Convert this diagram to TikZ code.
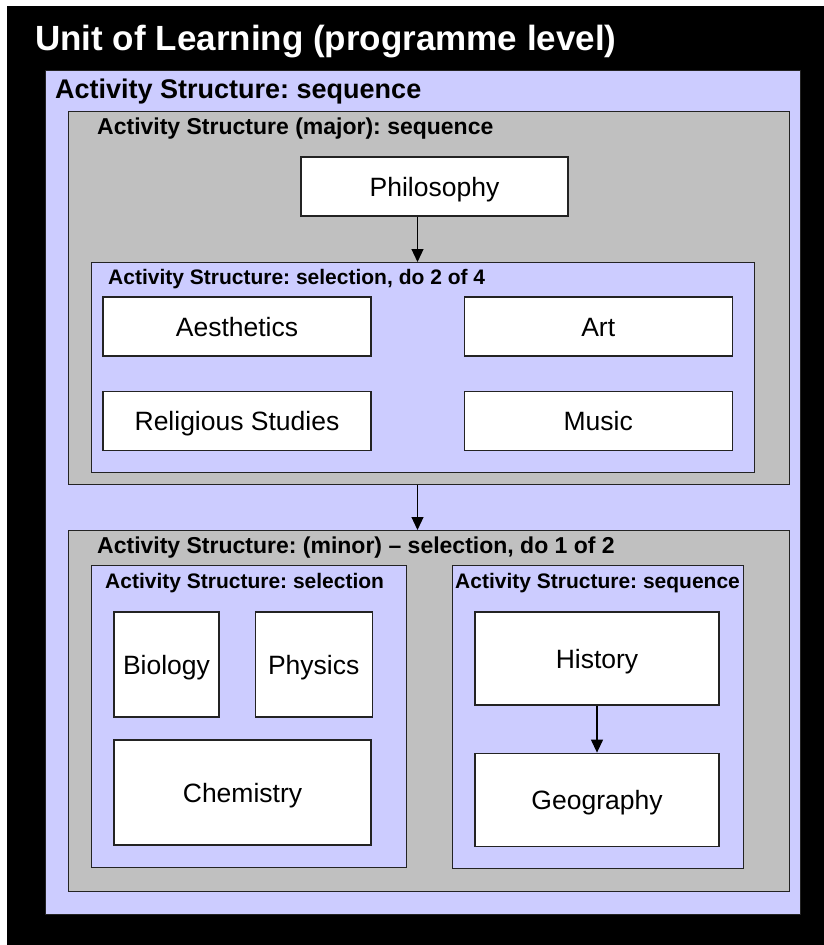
\documentclass[tikz,border=0pt]{standalone}
\usepackage{fontspec}
\setmainfont{Liberation Sans}
\usetikzlibrary{arrows.meta, positioning}
\definecolor{uolblue}{RGB}{204, 204, 255}
\definecolor{uolgray}{RGB}{192, 192, 192}
\definecolor{uoledge}{RGB}{35, 35, 35}
\frenchspacing

\begin{document}
\begin{tikzpicture}[
  x=1pt, y=-1pt,
  bluepane/.style={rectangle, draw=uoledge, fill=uolblue, line width=1.2pt,
                   anchor=north west, inner sep=0pt},
  graypane/.style={rectangle, draw=uoledge, fill=uolgray, line width=1.2pt,
                   anchor=north west, inner sep=0pt},
  subj/.style={rectangle, draw=uoledge, fill=white, line width=1.2pt, inner sep=0pt,
               text height=19pt, text depth=0pt, align=center,
               font=\fontsize{26.5}{30}\selectfont},
  head/.style={anchor=base west, inner sep=0pt, font=\bfseries\fontsize{#1}{#1}\selectfont},
  arrow/.style={-{Triangle[length=13pt, width=12pt]}, line width=1.2pt, color=black},
]
  \useasboundingbox (0,0) rectangle (824,945);
  \fill[black] (7,6) rectangle (824,945);

  % Unit of learning
  \node[head=35, text=white] (uolhd) at (35,50) {Unit of Learning (programme level)};
  \node[bluepane, minimum width=755pt, minimum height=844pt] (seq) at (45,70) {};
  \node[head=27] (seqhd) at (55,98) {Activity Structure: sequence};

  % Major
  \node[graypane, minimum width=721pt, minimum height=373pt] (major) at (68,111) {};
  \node[head=23] (majorhd) at (97,134) {Activity Structure (major): sequence};
  \node[subj, minimum width=267pt, minimum height=59pt] (phil) at (434.5,186.5) {Philosophy};

  \node[bluepane, minimum width=663pt, minimum height=210pt] (pick) at (91,262) {};
  \node[head=21] (pickhd) at (108,284) {Activity Structure: selection, do 2 of 4};
  \node[subj, minimum width=268pt, minimum height=59pt] (aes) at (237,326.5) {Aesthetics};
  \node[subj, minimum width=268pt, minimum height=59pt, right=92pt of aes] (art) {Art};
  \node[subj, minimum width=268pt, minimum height=59pt, below=34pt of aes] (rel) {Religious Studies};
  \node[subj, minimum width=268pt, minimum height=59pt, below=34pt of art] (mus) {Music};

  % Minor
  \node[graypane, minimum width=721pt, minimum height=361pt] (minor) at (68,530) {};
  \node[head=23] (minorhd) at (97,553) {Activity Structure: (minor) – selection, do 1 of 2};

  \node[bluepane, minimum width=315pt, minimum height=302pt] (sci) at (91,565) {};
  \node[head=21] (scihd) at (105,588) {Activity Structure: selection};
  \node[subj, minimum width=105pt, minimum height=105pt] (bio) at (166.5,664.5) {Biology};
  \node[subj, minimum width=117pt, minimum height=105pt, right=35pt of bio] (phys) {Physics};
  \node[subj, minimum width=257pt, minimum height=105pt] (chem) at (242.5,792.5) {Chemistry};

  \node[bluepane, minimum width=291pt, minimum height=303pt] (hum) at (452,565) {};
  \node[head=21] (humhd) at (455,588) {Activity Structure: sequence};
  \node[subj, minimum width=244pt, minimum height=93pt] (hist) at (597,658.5) {History};
  \node[subj, minimum width=244pt, minimum height=93pt, below=47pt of hist] (geo) {Geography};

  \draw[arrow] ([xshift=-17pt]phil.south) -- ([xshift=-17pt]phil.south |- pick.north);
  \draw[arrow] ([xshift=-17pt]phil.south |- major.south) -- ([xshift=-17pt]phil.south |- minor.north);
  \draw[arrow] (hist) -- (geo);
\end{tikzpicture}
\end{document}
